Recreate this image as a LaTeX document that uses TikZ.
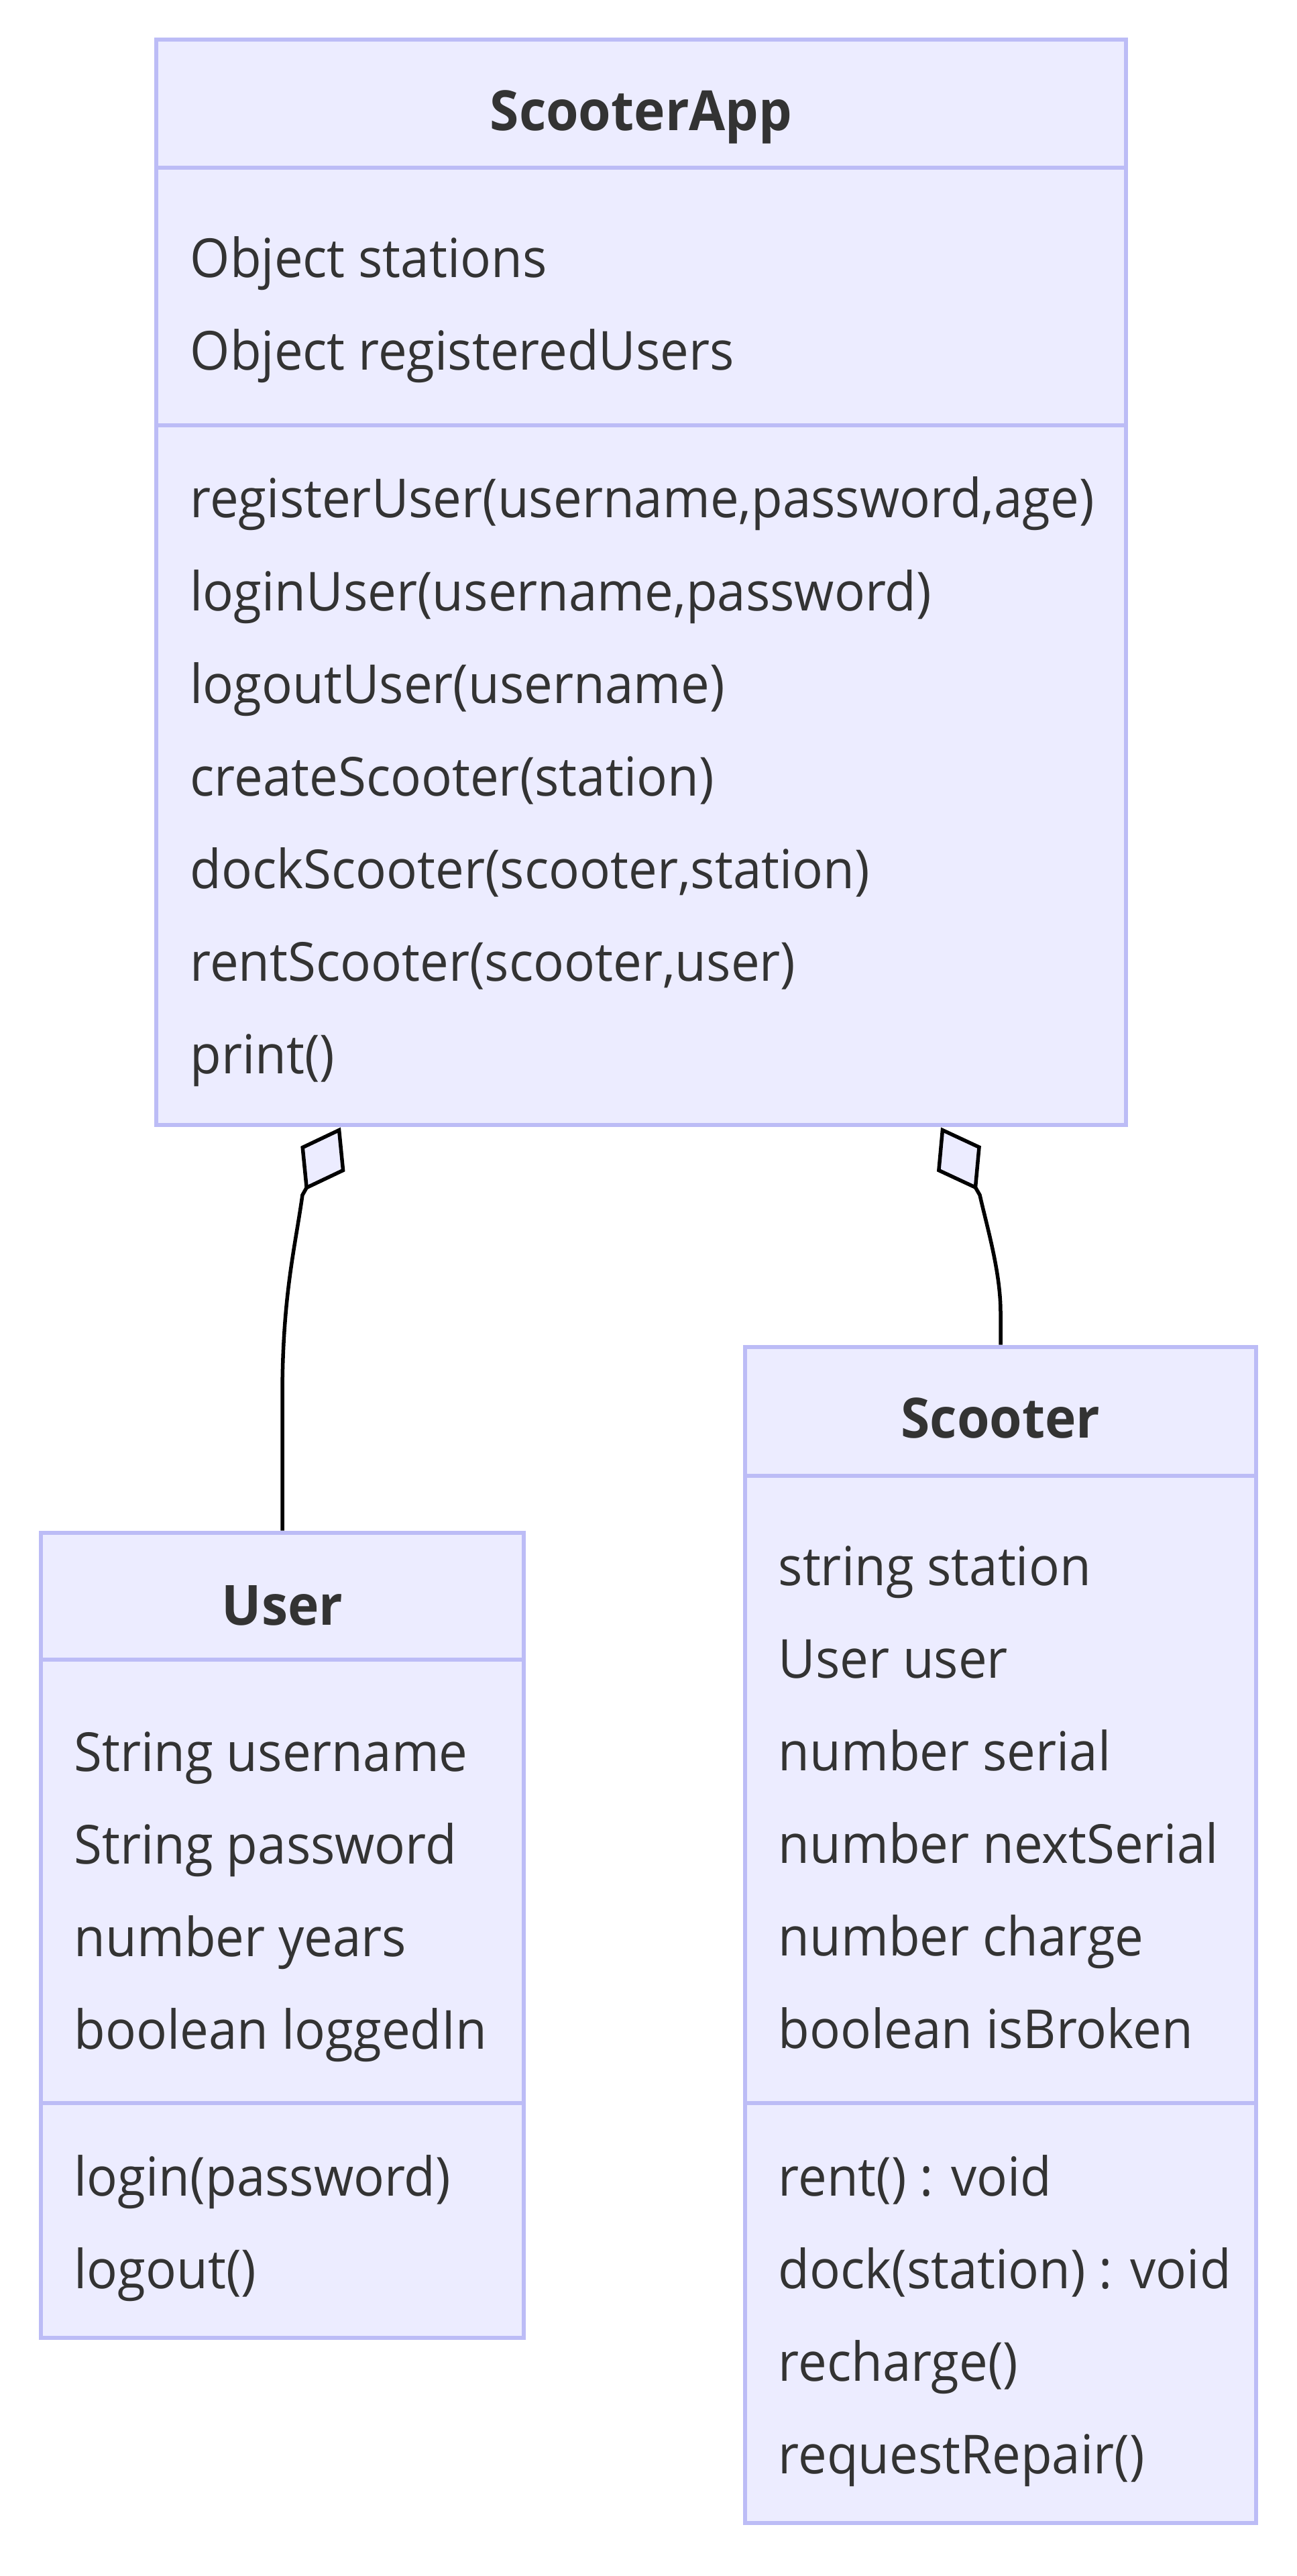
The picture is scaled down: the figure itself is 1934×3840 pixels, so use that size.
\documentclass[tikz,border=0pt]{standalone}
\usepackage{fontspec}
\setmainfont{Open Sans}[FakeStretch=0.95]
\usetikzlibrary{
    arrows.meta,
    calc
}
\definecolor{classfill}{HTML}{ECECFF}
\definecolor{classline}{HTML}{BCBCF6}
\definecolor{textgrey}{HTML}{333333}

\begin{document}
\begin{tikzpicture}[
    x=0.01cm, y=-0.01cm,
    every node/.style={font=\fontsize{22.8pt}{28pt}\selectfont, text=textgrey, inner sep=0pt},
    class_box/.style={rectangle, draw=classline, fill=classfill, line width=0.06cm},
    divider/.style={draw=classline, line width=0.06cm},
    class_title/.style={anchor=base, font=\fontsize{23.5pt}{28pt}\selectfont\bfseries},
    member/.style={anchor=base west},
    aggr/.style={line width=0.055cm, draw=black, -{Diamond[length=1.08cm, width=0.76cm, fill=classfill]}}
]
\useasboundingbox (0,0) rectangle (1934,3840);

% ScooterApp
\node[class_box, minimum width=14.46cm, minimum height=16.18cm] (app) at (956,868) {};
\draw[divider] (233,250) -- (1679,250);
\draw[divider] (233,634) -- (1679,634);
\node[class_title] (app_name) at (956,195) {ScooterApp};
\foreach \txt [count=\i from 0] in {Object stations, Object registeredUsers}
    \node[member] (app_attr\i) at (283,{414+138*\i}) {\txt};
\foreach \txt [count=\i from 0] in {{registerUser(username,password,age)}, {loginUser(username,password)},
    logoutUser(username), createScooter(station), {dockScooter(scooter,station)},
    {rentScooter(scooter,user)}, print()}
    \node[member] (app_op\i) at (283,{772+138*\i}) {\txt};

% User
\node[class_box, minimum width=7.20cm, minimum height=12.00cm] (user) at (421,2885) {};
\draw[divider] (61,2474) -- (781,2474);
\draw[divider] (61,3135) -- (781,3135);
\node[class_title] (user_name) at (421,2422) {User};
\foreach \txt [count=\i from 0] in {String username, String password, number years, boolean loggedIn}
    \node[member] (user_attr\i) at (110,{2640+138*\i}) {\txt};
\foreach \txt [count=\i from 0] in {login(password), logout()}
    \node[member] (user_op\i) at (110,{3273+138*\i}) {\txt};

% Scooter
\node[class_box, minimum width=7.62cm, minimum height=17.52cm] (scooter) at (1492,2884) {};
\draw[divider] (1111,2200) -- (1873,2200);
\draw[divider] (1111,3135) -- (1873,3135);
\node[class_title] (scooter_name) at (1492,2143) {Scooter};
\foreach \txt [count=\i from 0] in {string station, User user, number serial, number nextSerial,
    number charge, boolean isBroken}
    \node[member] (scooter_attr\i) at (1160,{2363+138*\i}) {\txt};
\foreach \txt [count=\i from 0] in {rent() : void, dock(station) : void, recharge(), requestRepair()}
    \node[member] (scooter_op\i) at (1160,{3273+138*\i}) {\txt};

% aggregations
\coordinate (app_user) at ($(app.south west)!0.1916!(app.south east)$);
\coordinate (app_scooter) at ($(app.south west)!0.8077!(app.south east)$);
\draw[aggr] (user.north) -- ++(0,-200) .. controls +(0,-150) and (440,1860)
    .. ($(app_user)+(-57,101)$) -- (app_user);
\draw[aggr] (scooter.north) -- ++(0,-48) .. controls +(0,-60) and (1472,1830)
    .. ($(app_scooter)+(58,101)$) -- (app_scooter);

\end{tikzpicture}
\end{document}
